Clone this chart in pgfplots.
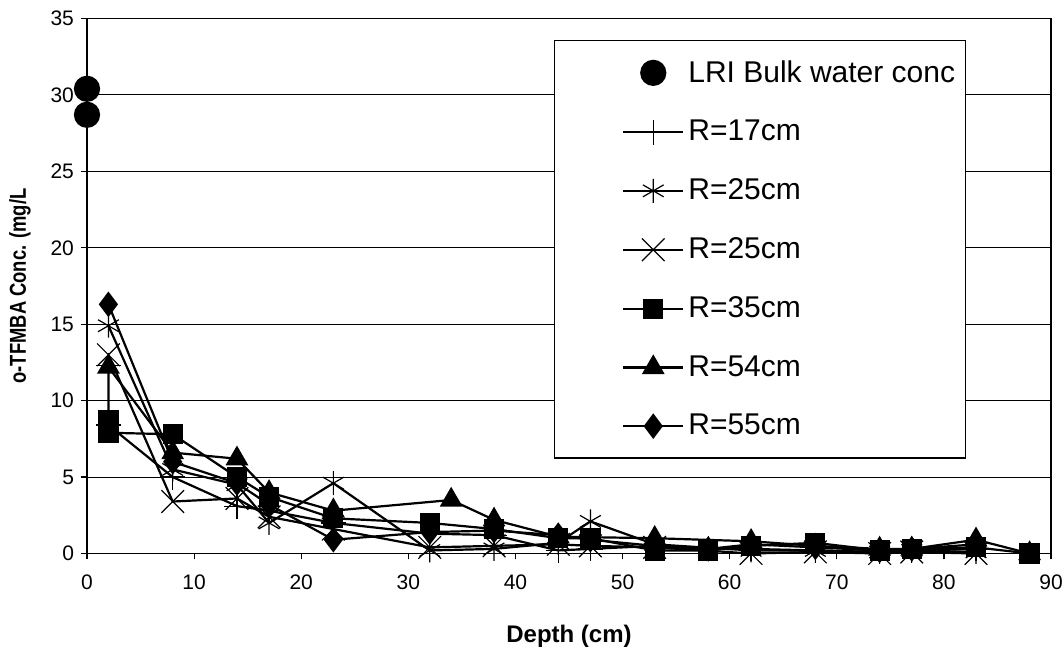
\documentclass[border=0pt]{standalone}
\usepackage{fontspec}
\setmainfont{Liberation Sans}
\usepackage{graphicx}
\usepackage{pgfplots}
\pgfplotsset{compat=1.18}
\begin{document}
\begin{tikzpicture}
\useasboundingbox (-43.5pt,-48.75pt) rectangle (488pt,276.75pt);
\begin{axis}[
  at={(0pt,0pt)}, anchor=south west,
  scale only axis, width=482pt, height=267.5pt,
  xmin=0, xmax=90, ymin=0, ymax=35,
  xtick={0,10,...,90}, ytick={0,5,...,35},
  tick pos=left,
  tick align=outside, major tick length=3pt,
  tick style={black, line width=0.6pt},
  axis line style={black, line width=0.8pt},
  ymajorgrids, major grid style={black, line width=0.5pt},
  ticklabel style={font=\fontsize{10.5}{12}\selectfont},
  xticklabel style={yshift=-4pt},
  /pgf/number format/assume math mode=true,
  xlabel={Depth (cm)}, ylabel={\scalebox{0.8}[1]{o-TFMBA Conc. (mg/L}},
  every axis x label/.style={at={(axis description cs:0.5,-0.154)}, anchor=center, font=\fontsize{12}{14}\selectfont\bfseries},
  every axis y label/.style={at={(axis description cs:-0.0695,0.5)}, rotate=90, anchor=center, font=\fontsize{11.5}{14}\selectfont\bfseries},
  clip=false,
  legend cell align=left,
  legend style={at={(axis description cs:0.484,0.96)}, anchor=north west,
    draw=black, line width=0.6pt, font=\fontsize{15}{18}\selectfont,
    row sep=13.5pt, inner xsep=3pt, inner ysep=8pt},
  legend image code/.code={\path (-31pt,0pt); \draw[mark repeat=2,mark phase=2] plot coordinates {(0pt,0pt)(15pt,0pt)(30pt,0pt)};},
  every axis plot/.append style={black, line width=1.1pt, mark options={solid, fill=black}},
]
\addplot[only marks, mark=*, mark size=6pt,
  legend image code/.code={\path (-31pt,0pt) (30pt,0pt); \draw[only marks] plot coordinates {(15pt,0pt)};}]
  coordinates {(0,30.4)(0,28.7)};
\addlegendentry{LRI Bulk water conc}
\addplot[mark=+, mark size=6.25pt, mark options={line width=0.6pt}]
  coordinates {(2,12.3)(2,8.4)(8,5.0)(14,3.1)(17,2.8)(23,2.0)(32,1.3)(38,1.2)(44,0.2)(47,0.3)(53,0.5)(58,0.3)(62,0.3)(68,0.2)(74,0.1)(77,0.2)(83,0.3)};
\addlegendentry{R=17cm}
\addplot[mark=asterisk, mark size=6pt, mark options={line width=0.6pt}]
  coordinates {(2,14.9)(8,5.5)(14,4.5)(17,2.0)(23,4.6)(32,0.2)(38,0.3)(44,0.7)(47,2.1)(53,0.6)(62,0.2)(68,0.2)(74,0.1)(77,0.2)(83,0.1)};
\addlegendentry{R=25cm}
\addplot[mark=x, mark size=8pt, mark options={line width=0.6pt}]
  coordinates {(2,13.0)(8,3.4)(14,3.6)(17,2.4)(23,1.6)(32,0.4)(38,0.5)(44,0.6)(47,0.5)(53,0.4)(62,0.0)(68,0.1)(74,0.0)(77,0.1)(83,0.0)};
\addlegendentry{R=25cm}
\addplot[mark=square*, mark size=4.5pt]
  coordinates {(2,8.7)(2,7.9)(8,7.8)(14,5.0)(17,3.7)(23,2.3)(32,2.0)(38,1.6)(44,1.0)(47,1.0)(53,0.2)(58,0.2)(62,0.5)(68,0.7)(74,0.2)(77,0.3)(83,0.4)(88,0.0)};
\addlegendentry{R=35cm}
\addplot[mark=triangle*, mark size=5.5pt]
  coordinates {(2,12.2)(8,6.6)(14,6.2)(17,4.0)(23,2.8)(34,3.5)(38,2.2)(44,1.1)(53,1.0)(62,0.8)(68,0.5)(74,0.3)(77,0.3)(83,0.9)(88,0.0)};
\addlegendentry{R=54cm}
\addplot[mark=diamond*, mark size=5.5pt]
  coordinates {(2,16.3)(8,6.0)(14,4.6)(17,3.2)(23,0.9)(32,1.4)(38,1.5)(44,1.2)(47,0.9)(53,0.5)(58,0.3)(62,0.6)(68,0.4)(74,0.2)(77,0.3)(83,0.6)};
\addlegendentry{R=55cm}
\end{axis}
\end{tikzpicture}
\end{document}
